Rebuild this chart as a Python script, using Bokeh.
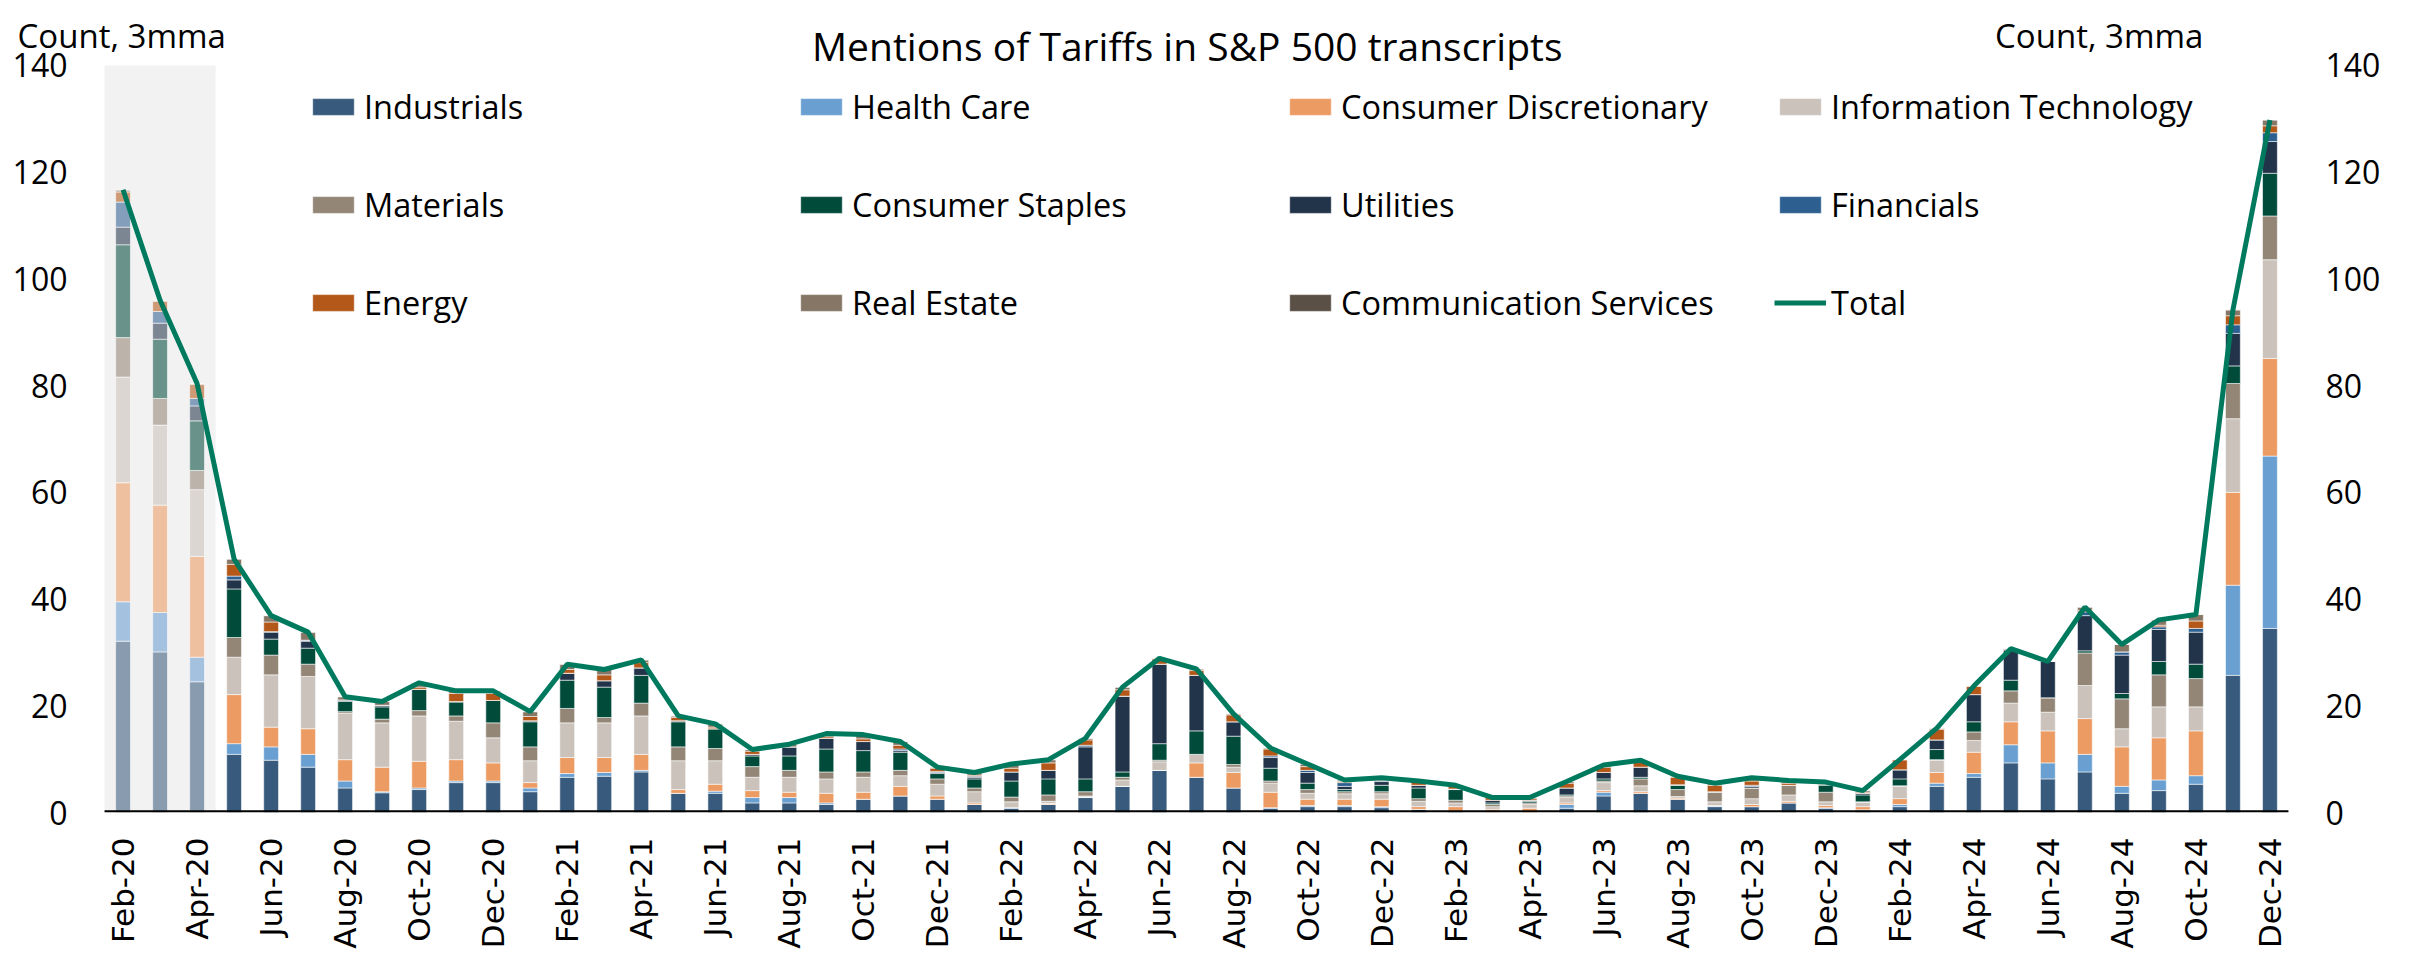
from bokeh.plotting import figure
from bokeh.models import (ColumnDataSource, Range1d, LinearAxis, FixedTicker, BoxAnnotation,
                          Label, Legend, LegendItem, FactorRange, CustomJSTickFormatter)
from bokeh.embed import file_html
from bokeh.resources import INLINE

months = ["Feb-20", "Mar-20", "Apr-20", "May-20", "Jun-20", "Jul-20", "Aug-20", "Sep-20", "Oct-20", "Nov-20",
          "Dec-20", "Jan-21", "Feb-21", "Mar-21", "Apr-21", "May-21", "Jun-21", "Jul-21", "Aug-21", "Sep-21",
          "Oct-21", "Nov-21", "Dec-21", "Jan-22", "Feb-22", "Mar-22", "Apr-22", "May-22", "Jun-22", "Jul-22",
          "Aug-22", "Sep-22", "Oct-22", "Nov-22", "Dec-22", "Jan-23", "Feb-23", "Mar-23", "Apr-23", "May-23",
          "Jun-23", "Jul-23", "Aug-23", "Sep-23", "Oct-23", "Nov-23", "Dec-23", "Jan-24", "Feb-24", "Mar-24",
          "Apr-24", "May-24", "Jun-24", "Jul-24", "Aug-24", "Sep-24", "Oct-24", "Nov-24", "Dec-24"]

industrials = [32.1, 30.1, 24.5, 10.9, 9.8, 8.5, 4.6, 3.7, 4.3, 5.6, 5.6, 3.9, 6.6, 6.8, 7.6, 3.6, 3.6, 1.8, 1.8, 1.5,
               2.5, 3.1, 2.5, 1.5, 0.8, 1.5, 2.8, 4.9, 7.9, 6.6, 4.6, 0.8, 1.1, 1.1, 0.9, 0.6, 0.2, 0.0, 0.0, 0.8,
               3.1, 3.6, 2.5, 1.1, 1.1, 1.8, 0.8, 0.5, 1.1, 4.9, 6.6, 9.3, 6.3, 7.6, 3.6, 4.1, 5.3, 25.7, 34.5]
health_care = [7.4, 7.4, 4.6, 2.0, 2.5, 2.4, 1.3, 0.2, 0.3, 0.3, 0.3, 0.7, 0.7, 0.7, 0.3, 0.0, 0.4, 1.0, 1.0, 0.3,
               0.0, 0.0, 0.0, 0.0, 0.1, 0.0, 0.1, 0.0, 0.0, 0.0, 0.0, 0.1, 0.2, 0.2, 0.2, 0.0, 0.0, 0.0, 0.0, 0.7,
               0.7, 0.0, 0.0, 0.1, 0.0, 0.0, 0.1, 0.0, 0.4, 0.6, 0.7, 3.4, 3.0, 3.3, 1.3, 2.0, 1.6, 16.9, 32.3]
cons_disc = [22.3, 20.1, 18.9, 9.2, 3.7, 4.8, 4.0, 4.6, 5.0, 4.0, 3.4, 1.0, 3.0, 2.8, 3.0, 0.7, 1.3, 1.3, 1.0, 1.8,
             1.3, 1.8, 0.6, 0.3, 0.0, 0.2, 0.0, 0.0, 0.0, 2.7, 2.9, 2.9, 1.2, 1.2, 1.4, 0.5, 0.9, 0.6, 0.8, 0.3,
             0.3, 0.3, 0.2, 0.1, 0.4, 0.3, 0.4, 0.6, 1.1, 2.0, 4.0, 4.3, 6.0, 6.7, 7.4, 7.9, 8.4, 17.4, 18.3]
info_tech = [19.8, 15.0, 12.5, 7.0, 9.8, 9.8, 8.7, 8.3, 8.5, 7.2, 4.7, 4.1, 6.5, 6.5, 7.2, 5.4, 4.4, 2.5, 2.8, 2.7,
             2.8, 2.0, 2.2, 2.1, 1.1, 0.4, 0.2, 1.2, 1.6, 1.6, 1.0, 1.7, 1.1, 1.0, 1.0, 1.0, 0.7, 0.5, 0.7, 1.0,
             1.5, 1.1, 0.3, 0.7, 1.1, 1.2, 0.7, 0.8, 2.3, 2.3, 2.2, 3.5, 3.5, 6.2, 3.4, 5.8, 4.5, 13.8, 18.5]
materials = [7.4, 5.0, 3.6, 3.7, 3.7, 2.3, 0.3, 0.7, 1.0, 1.0, 2.8, 2.6, 2.7, 1.0, 2.4, 2.6, 2.3, 2.0, 1.3, 1.3,
             1.0, 1.0, 1.0, 0.7, 0.9, 1.2, 0.8, 0.5, 0.3, 0.0, 0.5, 0.4, 0.7, 0.4, 0.4, 0.5, 0.5, 0.4, 0.3, 0.3,
             0.3, 1.3, 1.3, 1.8, 2.0, 1.8, 1.8, 0.1, 0.1, 0.1, 1.6, 2.3, 2.7, 6.1, 5.6, 6.0, 5.3, 6.6, 8.2]
cons_staples = [17.4, 11.1, 9.3, 9.1, 3.0, 3.0, 1.9, 2.3, 4.0, 2.6, 4.2, 4.7, 5.3, 5.7, 5.2, 4.7, 3.7, 2.0, 2.7, 4.3,
                4.0, 3.4, 1.0, 1.7, 3.0, 3.0, 2.4, 1.0, 3.1, 4.4, 5.3, 2.4, 1.2, 0.4, 1.2, 2.0, 2.0, 0.3, 0.3, 0.2,
                0.4, 0.3, 0.8, 0.0, 0.0, 0.0, 1.3, 1.3, 1.3, 1.9, 1.9, 2.0, 0.0, 0.4, 1.0, 2.5, 2.7, 3.3, 8.0]
utilities = [3.3, 3.0, 2.8, 1.7, 1.3, 1.3, 0.3, 0.3, 0.0, 0.1, 0.0, 0.2, 1.3, 1.2, 1.4, 0.2, 0.0, 0.3, 1.7, 2.0,
             1.7, 0.3, 0.2, 0.3, 1.7, 1.6, 6.0, 14.2, 14.9, 10.4, 2.7, 2.0, 2.0, 0.6, 0.7, 0.5, 0.1, 0.5, 0.2, 1.3,
             1.2, 1.9, 0.1, 0.1, 0.3, 0.0, 0.2, 0.3, 1.7, 1.8, 5.1, 5.7, 6.8, 6.6, 7.2, 6.0, 6.0, 6.1, 5.95]
financials = [4.7, 2.2, 1.4, 0.7, 0.1, 0.2, 0.0, 0.0, 0.0, 0.0, 0.0, 0.0, 0.0, 0.0, 0.0, 0.0, 0.0, 0.0, 0.0, 0.0,
              0.0, 0.3, 0.2, 0.2, 0.0, 0.0, 0.3, 0.0, 0.0, 0.0, 0.0, 0.3, 0.4, 0.7, 0.2, 0.0, 0.0, 0.0, 0.0, 0.0,
              0.0, 0.0, 0.0, 0.0, 0.2, 0.0, 0.0, 0.0, 0.0, 0.0, 0.0, 0.0, 0.0, 0.7, 0.6, 0.5, 0.7, 1.6, 1.65]
energy = [1.9, 1.9, 2.6, 2.2, 1.8, 0.0, 0.0, 0.0, 0.4, 1.5, 1.3, 0.8, 0.7, 1.1, 1.0, 0.6, 0.3, 0.6, 0.0, 0.3,
          0.5, 0.7, 0.6, 0.2, 0.7, 1.4, 1.0, 1.2, 1.0, 0.9, 1.3, 1.3, 0.7, 0.2, 0.3, 0.7, 0.5, 0.5, 0.3, 0.9,
          1.0, 1.0, 1.4, 1.2, 0.8, 0.4, 0.3, 0.2, 1.9, 2.0, 1.6, 0.0, 0.0, 0.3, 0.0, 0.3, 1.4, 1.7, 1.3]
real_estate = [0.4, 0.2, 0.2, 1.0, 1.2, 1.5, 0.6, 0.7, 0.8, 0.5, 0.5, 0.9, 1.0, 1.0, 0.5, 0.3, 0.6, 0.3, 0.5, 0.6,
               0.8, 0.7, 0.2, 0.5, 0.8, 0.6, 0.3, 0.5, 0.1, 0.3, 0.2, 0.2, 0.5, 0.3, 0.2, 0.1, 0.2, 0.0, 0.2, 0.3,
               0.4, 0.3, 0.2, 0.4, 0.6, 0.5, 0.1, 0.3, 0.0, 0.2, 0.0, 0.2, 0.0, 0.6, 1.4, 1.0, 1.2, 1.1, 1.1]
comm_services = [0.0] * 59
total = [116.7, 96.0, 80.4, 47.5, 36.9, 33.8, 21.7, 20.8, 24.3, 22.8, 22.8, 18.9, 27.8, 26.8, 28.6, 18.1, 16.6, 11.8,
         12.8, 14.8, 14.6, 13.3, 8.5, 7.5, 9.1, 9.9, 13.9, 23.5, 28.9, 26.9, 18.5, 12.1, 9.1, 6.1, 6.5, 5.9, 5.1,
         2.8, 2.8, 5.8, 8.9, 9.8, 6.8, 5.5, 6.5, 6.0, 5.7, 4.1, 9.9, 15.8, 23.7, 30.7, 28.3, 38.5, 31.5, 36.1,
         37.1, 94.2, 129.8]
highlighted = [1, 1, 1] + [0] * 56   # first three months shaded

sector_names = ["Industrials", "Health Care", "Consumer Discretionary", "Information Technology", "Materials",
                "Consumer Staples", "Utilities", "Financials", "Energy", "Real Estate", "Communication Services"]
sector_keys = ["ind", "hc", "cd", "it", "mat", "stap", "util", "fin", "en", "re", "cs"]
sector_colors = ["#385A7C", "#699FD1", "#EC9B62", "#CAC2BB", "#938676", "#014B3B", "#22344A", "#2D5F90",
                 "#B35819", "#857665", "#5A5046"]
total_color = "#007A5E"

data = dict(month=months, total=total,
            alpha=[0.57 if h else 1.0 for h in highlighted])
for k, vals in zip(sector_keys, [industrials, health_care, cons_disc, info_tech, materials, cons_staples,
                                 utilities, financials, energy, real_estate, comm_services]):
    data[k] = vals
source = ColumnDataSource(data)

FONT = "Open Sans"
YTOP = 152.18          # frame reaches the top of the canvas so the header texts sit inside it
SIDE_PAD = 104 / 37    # frame also reaches both canvas sides (room for the header texts)

p = figure(frame_width=2392, frame_height=812,
           x_range=FactorRange(*months, range_padding=SIDE_PAD, range_padding_units="absolute"),
           y_range=Range1d(0, YTOP),
           output_backend="svg", toolbar_location=None,
           min_border_left=0, min_border_right=0, min_border_top=0, min_border_bottom=135)
p.outline_line_color = None
p.xgrid.grid_line_color = None
p.ygrid.grid_line_color = None
p.background_fill_color = "white"
p.border_fill_color = "white"

p.add_layout(BoxAnnotation(left=0, right=3, bottom=0, top=140, fill_color="#F2F2F2",
                           fill_alpha=1.0, line_color=None, level="underlay"))

bars = p.vbar_stack(sector_keys, x="month", width=0.4, source=source, fill_color=sector_colors,
                    fill_alpha="alpha", line_color="white", line_width=1, line_alpha=0.55)
line_r = p.line(x="month", y="total", source=source, line_width=5, line_color=total_color)

# baseline under the bars, limited to the category span
p.add_layout(BoxAnnotation(left=0, right=len(months), bottom=0, top=0.4, fill_color="black",
                           fill_alpha=1.0, line_color=None))

# axes
ticks = [0, 20, 40, 60, 80, 100, 120, 140]
yax = p.yaxis[0]
yax.ticker = FixedTicker(ticks=ticks)
p.extra_y_ranges = {"right": Range1d(0, YTOP)}
rax = LinearAxis(y_range_name="right", ticker=FixedTicker(ticks=ticks))
p.add_layout(rax, "right")
for ax in (yax, rax):
    ax.axis_line_color = None
    ax.major_tick_line_color = None
    ax.minor_tick_line_color = None
    ax.major_tick_out = 0
    ax.major_tick_in = 0
    ax.major_label_standoff = -67
    ax.major_label_text_font = FONT
    ax.major_label_text_font_size = "32px"
    ax.major_label_text_color = "black"

xax = p.xaxis[0]
xax.axis_line_color = None
xax.major_tick_line_color = None
xax.major_tick_out = 0
xax.major_label_orientation = 1.5707963
xax.major_label_standoff = 25
xax.major_label_text_font = "DejaVu Sans"
xax.major_label_text_font_size = "31px"
xax.major_label_text_color = "black"
xax.formatter = CustomJSTickFormatter(code="return (index % 2 == 0) ? tick : '';")

# title and unit labels
p.add_layout(Label(x=29.25, y=143.75, text="Mentions of Tariffs in S&P 500 transcripts", text_align="center",
                   text_baseline="alphabetic", text_font=FONT, text_font_size="39px", text_color="black"))
p.add_layout(Label(x=-2.35, y=145.6, text="Count, 3mma", text_align="left", text_baseline="alphabetic",
                   text_font=FONT, text_font_size="33px", text_color="black"))
p.add_layout(Label(x=56.7, y=145.6, text="Count, 3mma", text_align="right", text_baseline="alphabetic",
                   text_font=FONT, text_font_size="33px", text_color="black"))

# legend: four columns of three rows
renderers = list(bars) + [line_r]
labels = sector_names + ["Total"]
columns = [[0, 4, 8], [1, 5, 9], [2, 6, 10], [3, 7, 11]]
col_x = [307, 795, 1284, 1774]
for cx, col in zip(col_x, columns):
    items = [LegendItem(label=labels[i], renderers=[renderers[i]], index=58) for i in col]
    leg = Legend(items=items, location=(cx, 485), orientation="vertical",
                 glyph_width=52, glyph_height=21, label_standoff=5, label_height=50, spacing=48,
                 padding=0, margin=0, border_line_alpha=0, background_fill_alpha=0,
                 label_text_font=FONT, label_text_font_size="32.5px", label_text_color="black")
    p.add_layout(leg)

open("out.html", "w").write(file_html(p, INLINE))
